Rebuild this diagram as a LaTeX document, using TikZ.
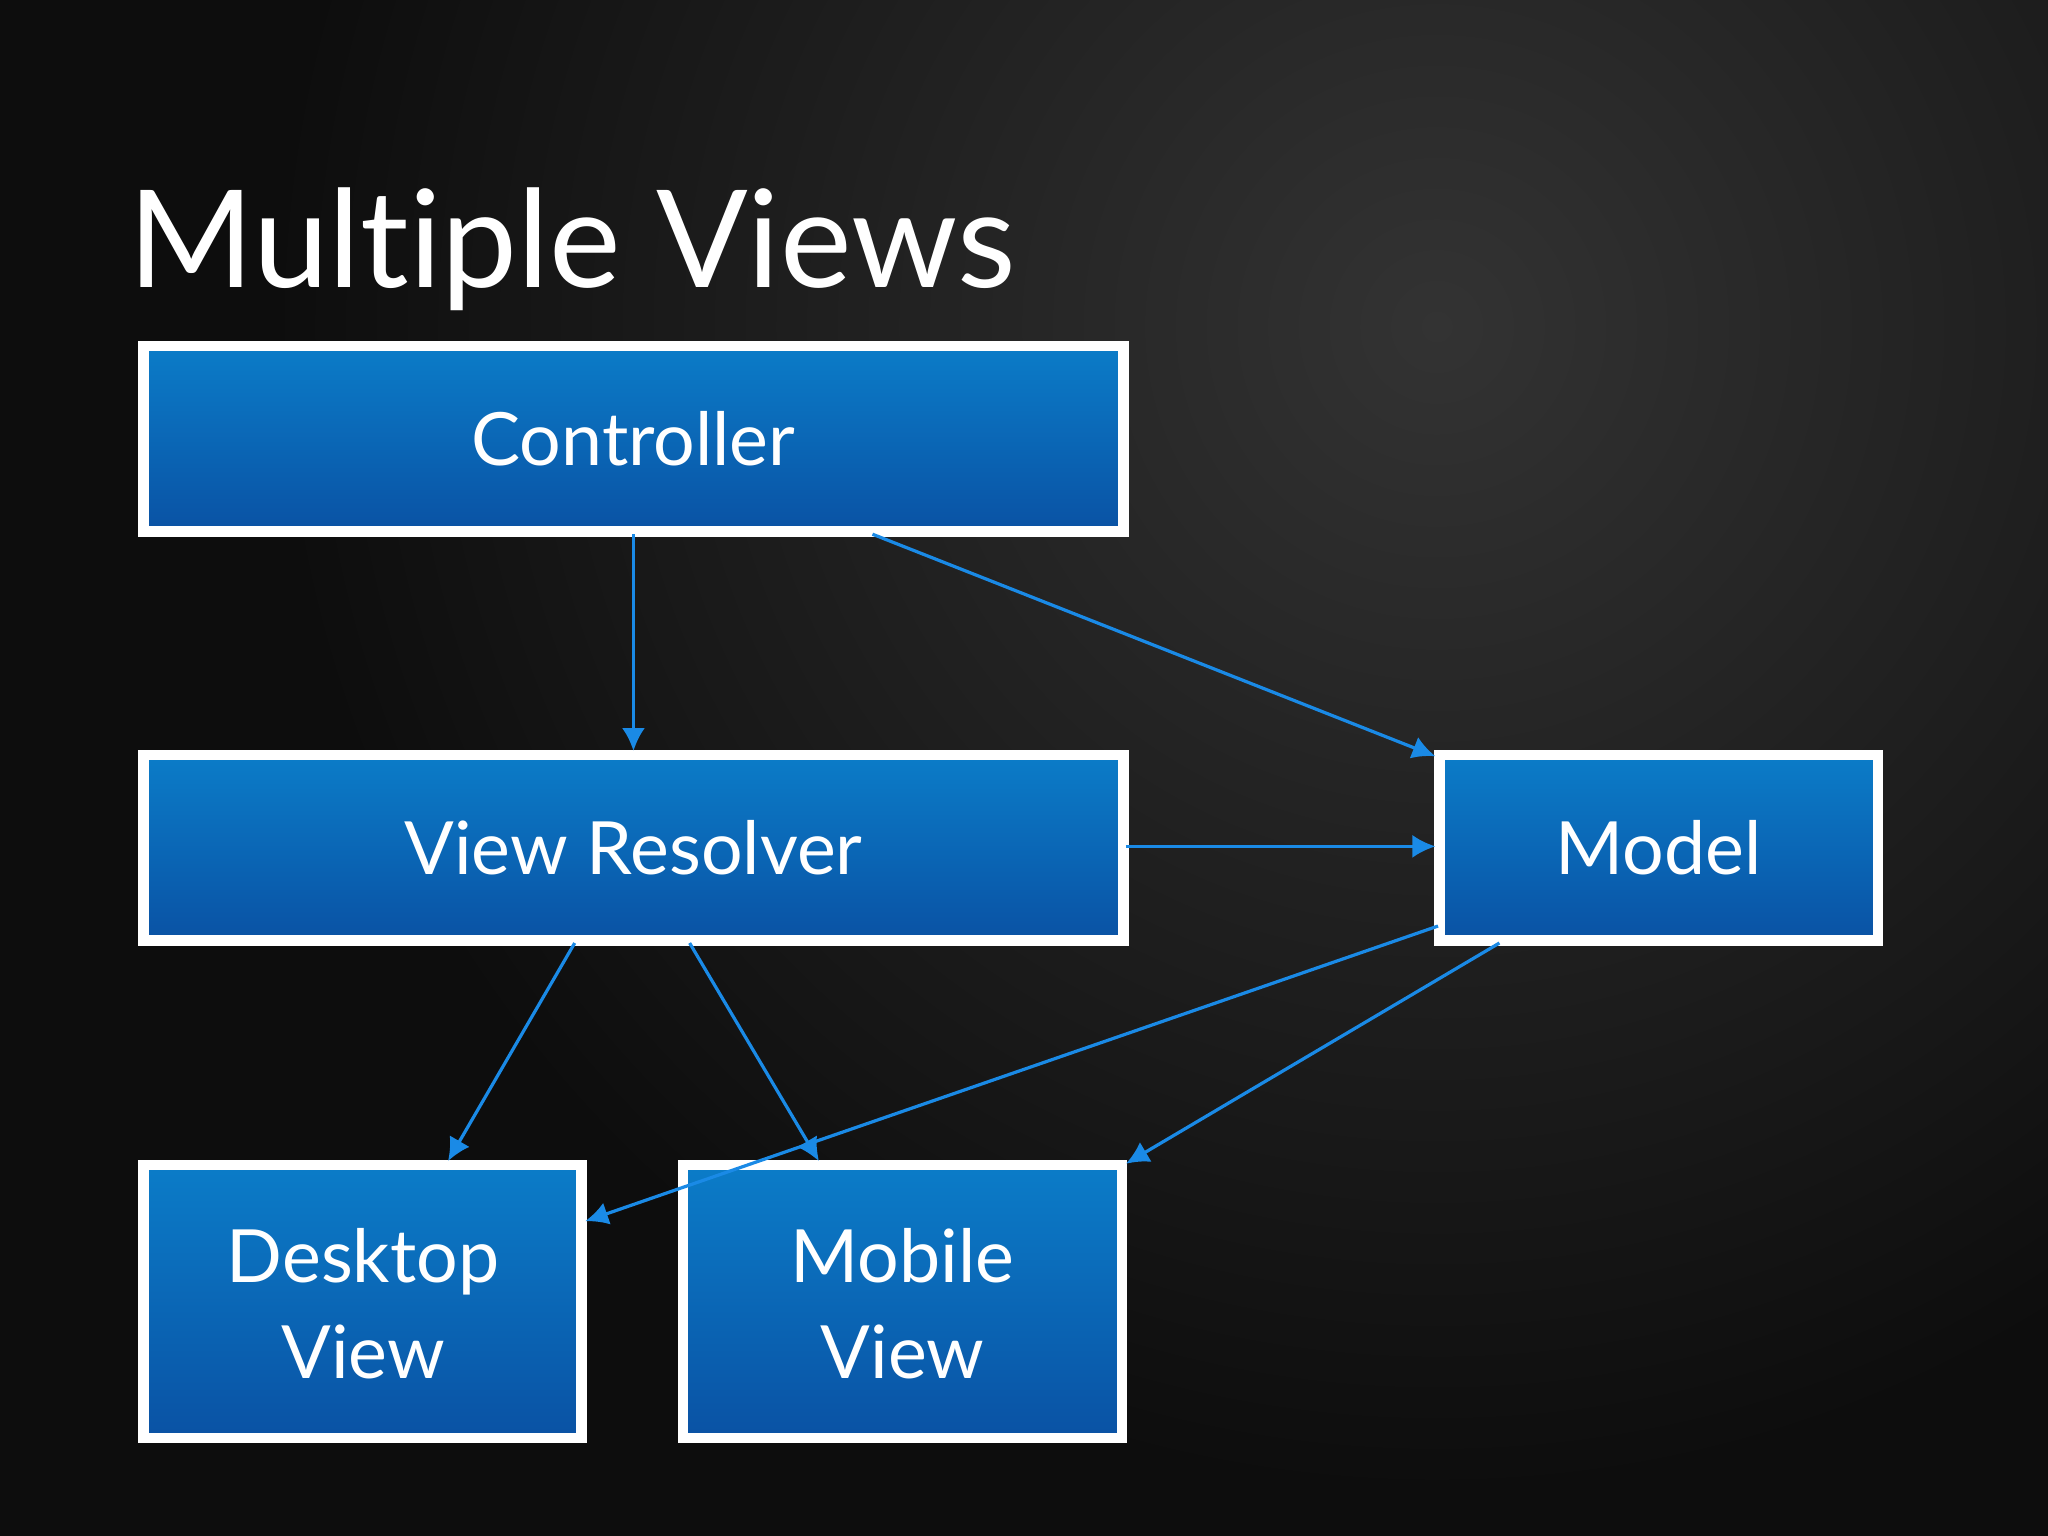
\documentclass[tikz,border=0pt]{standalone}
\usepackage{fontspec}
\setmainfont{Lato}[Ligatures={NoCommon}]
\usetikzlibrary{arrows.meta}
\definecolor{arr}{HTML}{1A8AE6}
\definecolor{btop}{HTML}{0B7CC8}
\definecolor{bbot}{HTML}{0A52A4}
\begin{document}
\begin{tikzpicture}[x=0.01cm,y=-0.01cm,
  box/.style={draw=white,line width=2.3pt,top color=btop,bottom color=bbot},
  lbl/.style={text=white,font=\fontsize{16}{19}\selectfont,align=center},
  conn/.style={draw=arr,line width=0.7pt,-{Latex[length=5pt,width=5pt]}}]
\useasboundingbox (0,0) rectangle (1568,1176);
\fill[black!95] (0,0) rectangle (1568,1176);
\shade[inner color=black!80, outer color=black!95] (1100,250) circle (900);
\node[anchor=base west,text=white,font=\fontsize{29.5}{34}\selectfont] (title) at (86,220) {Multiple Views};
\path[box] (110,265) rectangle (860,407);
\path[box] (110,578) rectangle (860,720);
\path[box] (1102,578) rectangle (1438,720);
\path[box] (110,892) rectangle (445,1101);
\path[box] (523,892) rectangle (859,1101);
\node[lbl] (ctrl) at (485,336) {Controller};
\node[lbl] (vr) at (485,649) {View Resolver};
\node[lbl] (model) at (1270,649) {Model};
\node[lbl] (desk) at (278,998) {Desktop\\[2pt]View};
\node[lbl] (mob) at (691,998) {Mobile\\[2pt]View};
\coordinate (c1) at (485,409); \coordinate (v1) at (485,575);
\coordinate (c2) at (668,409); \coordinate (m1) at (1099,579);
\coordinate (v2) at (862,648); \coordinate (m2) at (1099,648);
\coordinate (v3) at (440,722); \coordinate (d1) at (343,889);
\coordinate (v4) at (528,722); \coordinate (o1) at (627,889);
\coordinate (m3) at (1101,709); \coordinate (d2) at (448,935);
\coordinate (m4) at (1148,722); \coordinate (o2) at (862,891);
\draw[conn] (c1) -- (v1);
\draw[conn] (c2) -- (m1);
\draw[conn] (v2) -- (m2);
\draw[conn] (v3) -- (d1);
\draw[conn] (v4) -- (o1);
\draw[conn] (m3) -- (d2);
\draw[conn] (m4) -- (o2);
\end{tikzpicture}
\end{document}
